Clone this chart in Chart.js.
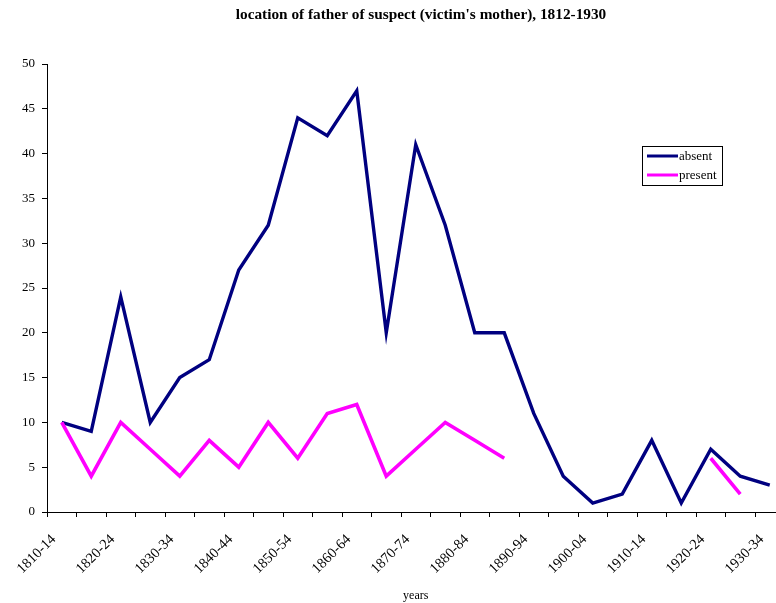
<!DOCTYPE html>
<html>
<head>
<meta charset="utf-8">
<script src="https://cdn.jsdelivr.net/npm/chart.js@4.4.1/dist/chart.umd.min.js"></script>
<style>
    html, body { margin: 0; padding: 0; background: #fff; overflow: hidden; }
    #wrap { width: 776px; height: 603px; overflow: hidden; }
    canvas { display: block; }
</style>
</head>
<body>
<div id="wrap"><canvas id="chart" width="842" height="603"></canvas></div>
<script>
const periods = [
    '1810-14', '1815-19', '1820-24', '1825-29', '1830-34', '1835-39', '1840-44', '1845-49',
    '1850-54', '1855-59', '1860-64', '1865-69', '1870-74', '1875-79', '1880-84', '1885-89',
    '1890-94', '1895-99', '1900-04', '1905-09', '1910-14', '1915-19', '1920-24', '1925-29',
    '1930-34'
];
const absent = [10, 9, 24, 10, 15, 17, 27, 32, 44, 42, 47, 20, 41, 32, 20, 20, 11, 4, 1, 2, 8, 1, 7, 4, 3];
const present = [10, 4, 10, 7, 4, 8, 5, 10, 6, 11, 12, 4, 7, 10, 8, 6, null, null, null, null, null, null, 6, 2, null];
const yTicks = { min: 0, max: 50, step: 5 };
const chartTitle = "location of father of suspect (victim's mother), 1812-1930";

const serif = "'Liberation Serif', 'Times New Roman', serif";

// title is centred a bit right of the plot centre in the original, so draw it by hand
const topTitle = {
    id: 'topTitle',
    afterDraw(chart) {
        const ctx = chart.ctx;
        ctx.save();
        ctx.font = 'bold 15.3px ' + serif;
        ctx.fillStyle = '#000';
        ctx.textAlign = 'center';
        ctx.textBaseline = 'middle';
        ctx.fillText(chartTitle, 421, 15);
        ctx.restore();
    }
};

// legend box sitting inside the plot, like the original
const boxLegend = {
    id: 'boxLegend',
    afterDraw(chart) {
        const ctx = chart.ctx;
        const x = 642, y = 146, w = 80, h = 39;
        ctx.save();
        ctx.fillStyle = '#fff';
        ctx.fillRect(x, y, w, h);
        ctx.strokeStyle = '#000';
        ctx.lineWidth = 1;
        ctx.strokeRect(x + 0.5, y + 0.5, w, h);
        ctx.font = '13px ' + serif;
        ctx.textBaseline = 'middle';
        ctx.fillStyle = '#000';
        chart.data.datasets.forEach((ds, i) => {
            const ly = y + 10 + i * 19;
            ctx.strokeStyle = ds.borderColor;
            ctx.lineWidth = 3;
            ctx.beginPath();
            ctx.moveTo(x + 5, ly);
            ctx.lineTo(x + 36, ly);
            ctx.stroke();
            ctx.fillText(ds.label, x + 37, ly + 1);
        });
        ctx.restore();
    }
};

const ctx = document.getElementById('chart').getContext('2d');
new Chart(ctx, {
    type: 'line',
    data: {
        labels: periods,
        datasets: [
            {
                label: 'absent',
                data: absent,
                borderColor: '#000080',
                backgroundColor: '#000080',
                borderWidth: 3.4,
                pointRadius: 0,
                tension: 0,
                order: 1
            },
            {
                label: 'present',
                data: present,
                borderColor: '#FF00FF',
                backgroundColor: '#FF00FF',
                borderWidth: 3.6,
                pointRadius: 0,
                tension: 0,
                spanGaps: false,
                order: 0
            }
        ]
    },
    options: {
        responsive: false,
        animation: false,
        layout: { padding: { left: 0, right: 57.5, top: 64, bottom: 0 } },
        plugins: {
            legend: { display: false },
            tooltip: { enabled: false },
            title: { display: false }
        },
        scales: {
            x: {
                offset: true,
                grid: { offset: true, drawOnChartArea: false, drawTicks: true, tickLength: 5, color: '#000' },
                border: { color: '#000', width: 1 },
                ticks: {
                    autoSkip: false,
                    minRotation: 45,
                    maxRotation: 45,
                    padding: 14,
                    labelOffset: -8,
                    color: '#000',
                    font: { family: serif, size: 14.5 },
                    callback: (v, i) => (i % 2 === 0 ? periods[i] : '')
                },
                title: {
                    display: true,
                    text: 'years',
                    color: '#000',
                    font: { family: serif, size: 12 },
                    padding: { top: 1, bottom: 0 }
                },
                afterFit: scale => { scale.height = 91; }
            },
            y: {
                min: yTicks.min,
                max: yTicks.max,
                grid: { drawOnChartArea: false, drawTicks: true, tickLength: 5, color: '#000' },
                border: { color: '#000', width: 1 },
                ticks: {
                    stepSize: yTicks.step,
                    padding: 7,
                    color: '#000',
                    font: { family: serif, size: 13 }
                },
                afterFit: scale => { scale.width = 47; }
            }
        }
    },
    plugins: [topTitle, boxLegend]
});
</script>
</body>
</html>
